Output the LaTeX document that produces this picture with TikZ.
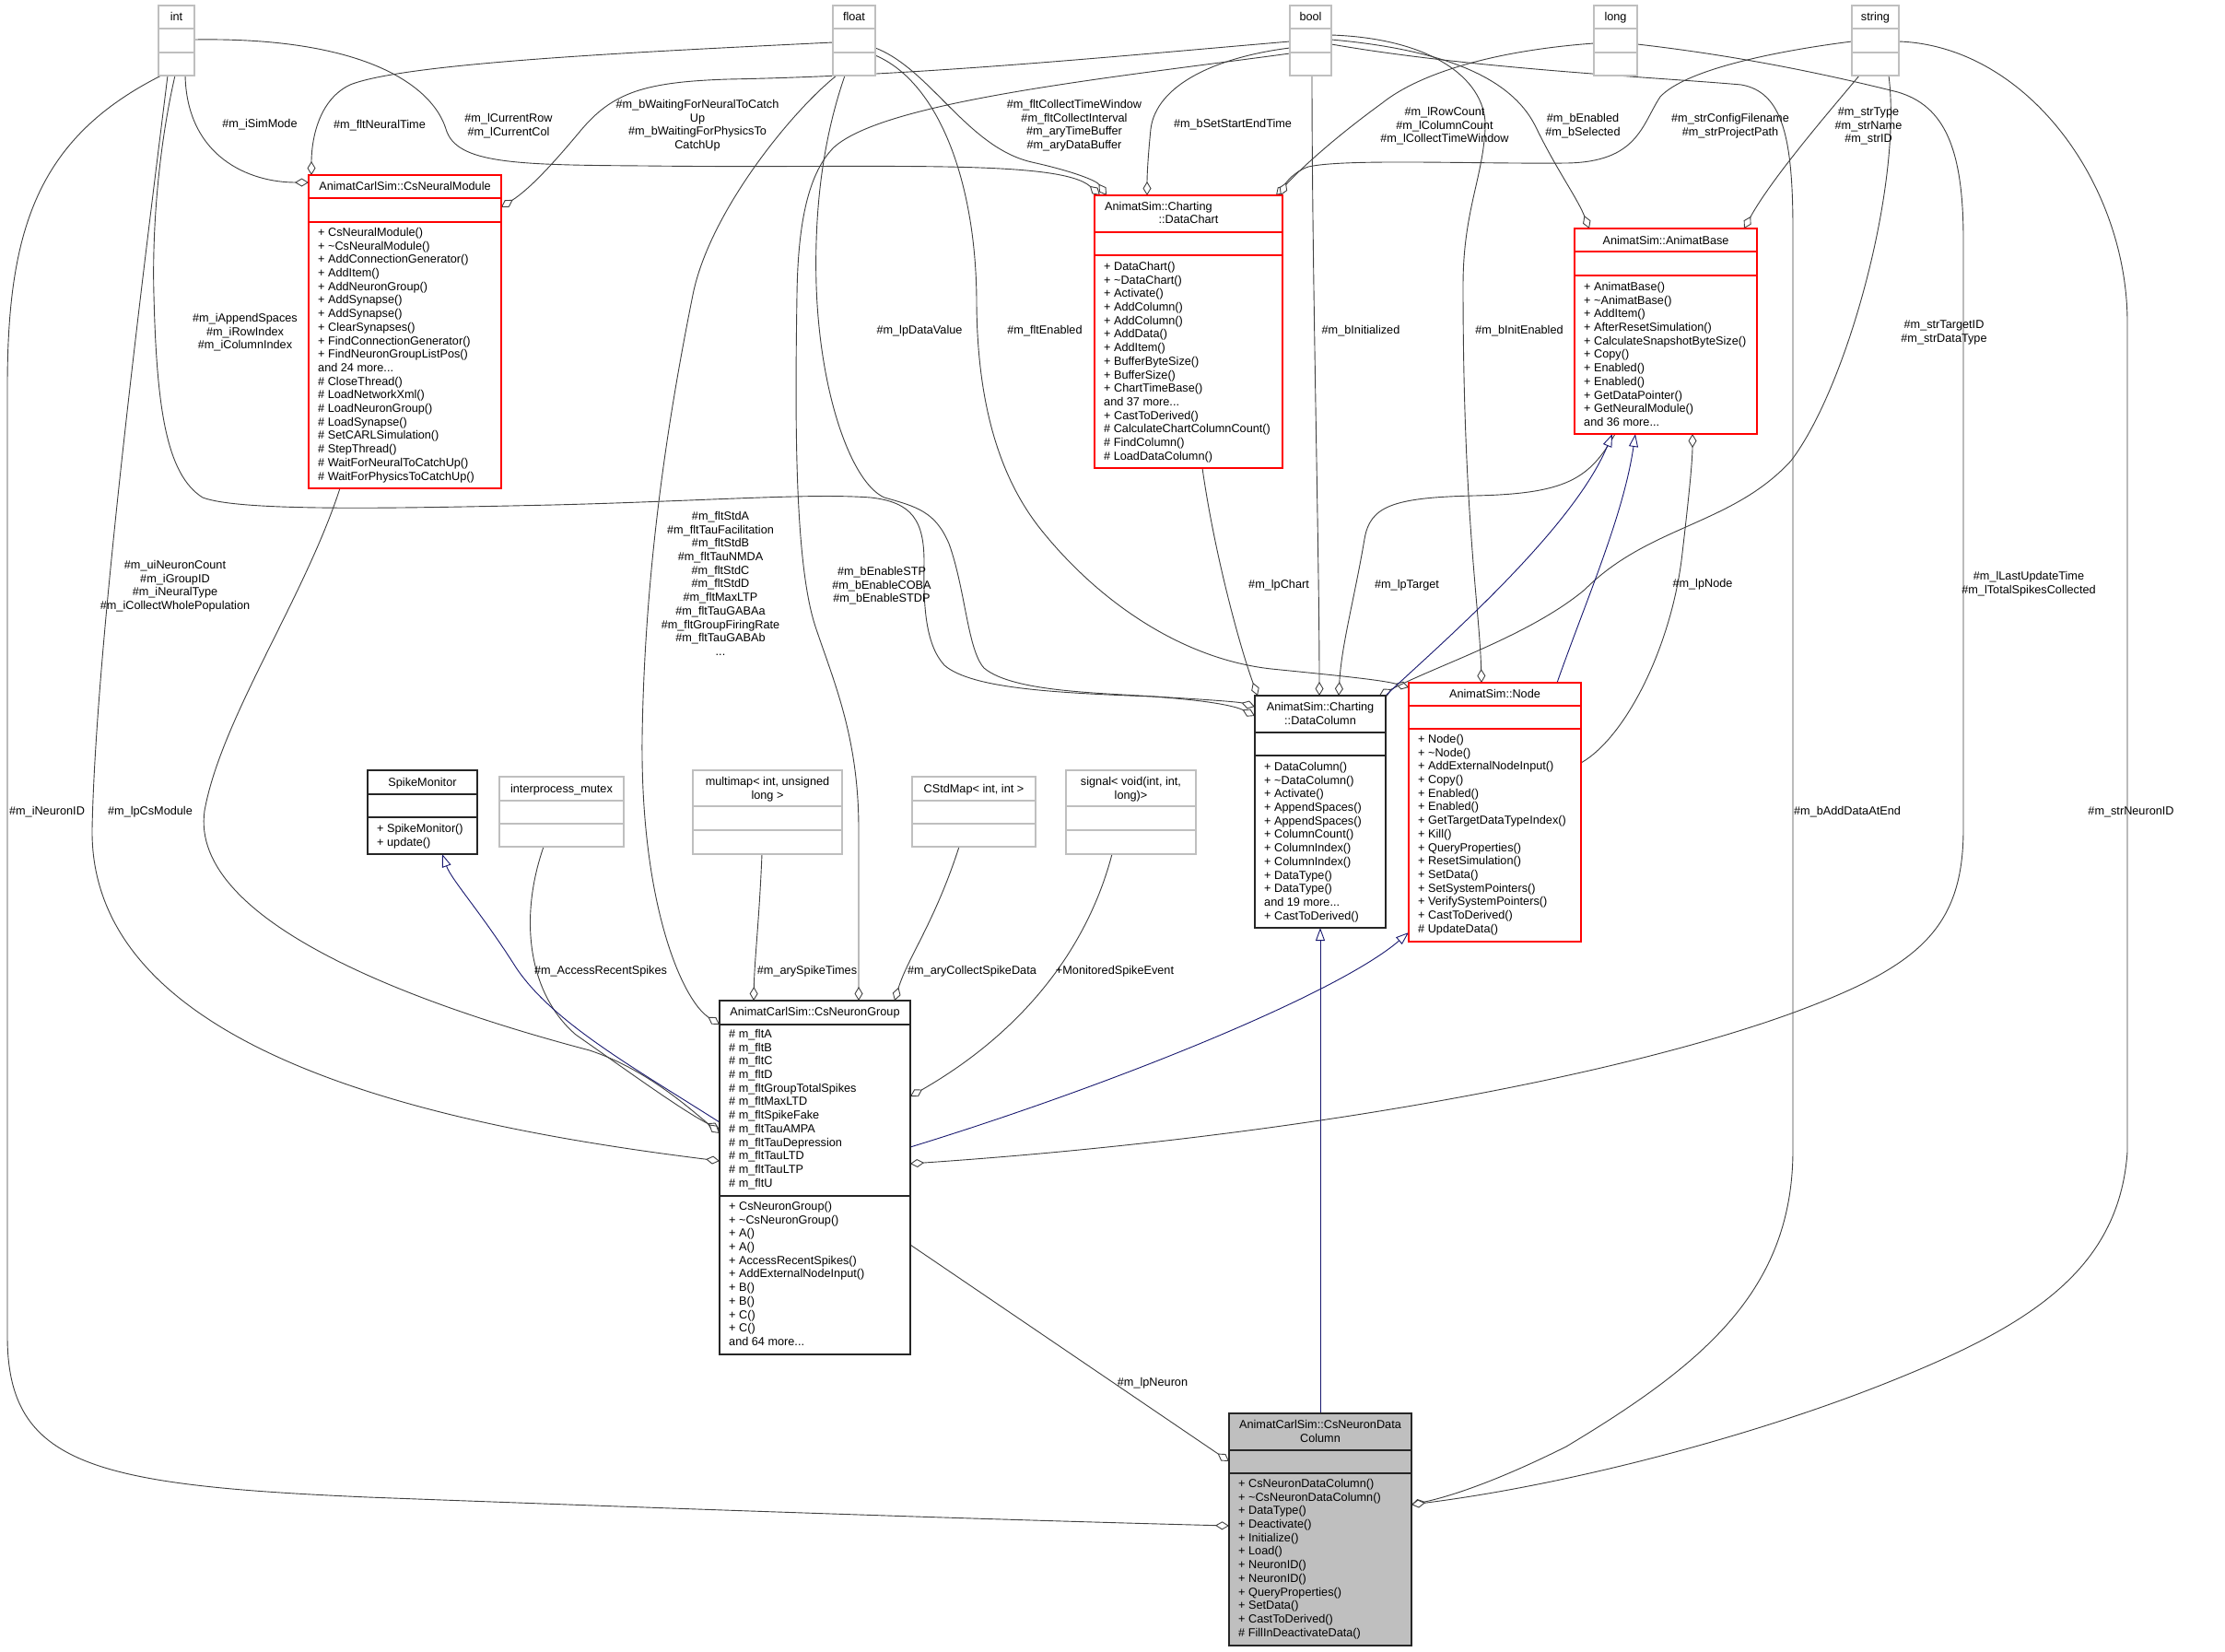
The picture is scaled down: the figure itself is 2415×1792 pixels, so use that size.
\documentclass[tikz,border=0pt]{standalone}
\usepackage{fontspec}
\setmainfont{Liberation Sans}
\usetikzlibrary{arrows.meta}
\definecolor{eg}{HTML}{404040}
\definecolor{nb}{HTML}{191970}
\definecolor{rb}{HTML}{FF0000}
\definecolor{gb}{HTML}{BFBFBF}
\newcommand\fs{\fontsize{12.7pt}{14.7pt}\selectfont}
\newcommand\umlbox[8]{%
  \node[#2, minimum width={(#5)-(#3)}, minimum height={(#6)-(#4)}] (#1) at ({((#3)+(#5))/2},{((#4)+(#6))/2}) {};
  \draw[#2-line] (#3,#7) -- (#5,#7);
  \draw[#2-line] (#3,#8) -- (#5,#8);
}
\begin{document}
\begin{tikzpicture}[x=1pt,y=-1pt,
  agg/.style={draw=eg, line width=0.9pt, -{Diamond[length=15pt,width=9pt,fill=white,line width=0.9pt]}},
  inh/.style={draw=nb, line width=0.9pt, -{Triangle[length=14pt,width=10pt,fill=white,line width=0.9pt]}},
  redbox/.style={draw=rb, line width=1.1pt, fill=white, inner sep=0pt, outer sep=0pt},
  redbox-line/.style={draw=rb, line width=1.1pt},
  blkbox/.style={draw=black!85, line width=1.1pt, fill=white, inner sep=0pt, outer sep=0pt},
  blkbox-line/.style={draw=black!85, line width=1.1pt},
  gbox/.style={draw=gb, line width=1.1pt, fill=white, inner sep=0pt, outer sep=0pt},
  gbox-line/.style={draw=gb, line width=1.1pt},
  selbox/.style={draw=black!85, line width=1.1pt, fill=gb, inner sep=0pt, outer sep=0pt},
  selbox-line/.style={draw=black!85, line width=1.1pt},
  txt/.style={inner sep=0pt, font=\fs, align=left, anchor=north west},
  ctxt/.style={inner sep=0pt, font=\fs, align=center, anchor=north},
  lbl/.style={inner sep=0pt, font=\fs, align=center, anchor=north},
]
\useasboundingbox[fill=white] (0,0) rectangle (2415,1792);

% ---------- boxes (placed first so that anchors exist) ----------
\umlbox{int}{gbox}{172}{6}{211}{82}{31}{57}
\umlbox{float}{gbox}{904}{6}{950}{82}{31}{57}
\umlbox{bool}{gbox}{1400}{6}{1445}{82}{31}{57}
\umlbox{long}{gbox}{1730}{6}{1777}{82}{31}{57}
\umlbox{string}{gbox}{2010}{6}{2061}{82}{31}{57}
\umlbox{cnm}{redbox}{335}{190}{544}{530}{215}{241}
\umlbox{dch}{redbox}{1188}{212}{1392}{508}{252}{277}
\umlbox{ab}{redbox}{1709}{248}{1907}{471}{273}{299}
\umlbox{dcol}{blkbox}{1362}{755}{1504}{1007}{795}{820}
\umlbox{nd}{redbox}{1529}{741}{1716}{1022}{766}{791}
\umlbox{cng}{blkbox}{781}{1086}{988}{1470}{1112}{1298}
\umlbox{cndc}{selbox}{1334}{1534}{1532}{1786}{1574}{1599}
\umlbox{sm}{blkbox}{399}{836}{518}{927}{862}{887}
\umlbox{ipm}{gbox}{542}{843}{677}{919}{869}{894}
\umlbox{mm}{gbox}{752}{836}{914}{927}{875}{901}
\umlbox{csm}{gbox}{990}{843}{1124}{919}{869}{894}
\umlbox{sig}{gbox}{1157}{836}{1298}{927}{875}{901}

% ---------- edges ----------
% from int
\draw[agg] (int.south -| 201,0) .. controls (203,170) and (270,198) .. (cnm.west |- 0,198);
\draw[agg] (int.east |- 0,43) .. controls (400,40) and (470,95) .. (484,140) .. controls (495,178) and (560,179) .. (700,180) .. controls (950,183) and (1150,172) .. (dch.north -| 1194,0);
\draw[agg] (int.south -| 190,0) .. controls (172,160) and (165,250) .. (167,320) .. controls (170,440) and (180,515) .. (220,540) .. controls (260,555) and (420,552) .. (600,548) .. controls (760,544) and (880,535) .. (945,540) .. controls (990,545) and (1003,565) .. (1003,610) .. controls (1002,660) and (1005,700) .. (1025,722) .. controls (1055,748) and (1150,752) .. (1250,756) .. controls (1310,760) and (1340,766) .. (dcol.west |- 0,777);
\draw[agg] (int.south -| 182,0) .. controls (155,300) and (104,700) .. (100,900) .. controls (97,1150) and (500,1225) .. (cng.west |- 0,1260);
\draw[agg] (int.south -| 175,0) .. controls (40,150) and (8,250) .. (8,420) -- (8,1450) .. controls (8,1590) and (100,1612) .. (400,1625) .. controls (800,1640) and (1100,1650) .. (cndc.west |- 0,1656);
% from float
\draw[agg] (float.west |- 0,46) .. controls (700,56) and (440,68) .. (380,92) .. controls (342,110) and (338,160) .. (cnm.north -| 338,0);
\draw[agg] (float.east |- 0,52) .. controls (1010,75) and (1050,160) .. (1120,176) .. controls (1165,186) and (1190,196) .. (dch.north -| 1201,0);
\draw[agg] (float.south -| 917,0) .. controls (890,160) and (884,240) .. (886,310) .. controls (890,430) and (925,525) .. (960,540) .. controls (995,550) and (1015,555) .. (1030,590) .. controls (1048,640) and (1050,705) .. (1068,725) .. controls (1100,752) and (1200,752) .. (1270,757) .. controls (1320,760) and (1345,762) .. (dcol.west |- 0,767);
\draw[agg] (float.east |- 0,60) .. controls (1020,90) and (1060,200) .. (1060,330) .. controls (1061,450) and (1090,525) .. (1130,575) .. controls (1190,650) and (1280,715) .. (1380,726) .. controls (1450,733) and (1500,738) .. (nd.west |- 0,746);
\draw[agg] (float.south -| 908,0) .. controls (860,120) and (770,230) .. (752,320) .. controls (730,430) and (700,600) .. (697,800) .. controls (695,980) and (740,1085) .. (cng.west |- 0,1112);
% from bool
\draw[agg] (bool.west |- 0,45) .. controls (1200,62) and (1000,82) .. (790,86) .. controls (700,89) and (665,100) .. (630,142) .. controls (600,178) and (575,205) .. (cnm.east |- 0,225);
\draw[agg] (bool.west |- 0,52) .. controls (1320,62) and (1255,92) .. (1249,140) .. controls (1246,170) and (1245,190) .. (dch.north -| 1245,0);
\draw[agg] (bool.south -| 1424,0) .. controls (1424,300) and (1432,600) .. (dcol.north -| 1432,0);
\draw[agg] (bool.east |- 0,38) .. controls (1560,42) and (1615,90) .. (1612,140) .. controls (1609,195) and (1588,230) .. (1588,310) .. controls (1588,560) and (1606,660) .. (nd.north -| 1608,0);
\draw[agg] (bool.east |- 0,43) .. controls (1580,55) and (1645,90) .. (1668,140) .. controls (1690,185) and (1712,215) .. (ab.north -| 1725,0);
\draw[agg] (bool.west |- 0,58) .. controls (1200,85) and (960,110) .. (905,160) .. controls (875,190) and (866,250) .. (865,320) .. controls (863,450) and (862,610) .. (885,680) .. controls (905,740) and (932,800) .. (932,900) -- (cng.north -| 932,0);
\draw[agg] (bool.east |- 0,48) .. controls (1600,75) and (1800,84) .. (1890,92) .. controls (1935,100) and (1946,150) .. (1946,250) -- (1946,1250) .. controls (1945,1400) and (1850,1480) .. (1700,1570) .. controls (1620,1610) and (1570,1625) .. (cndc.east |- 0,1633);
% from long
\draw[agg] (long.west |- 0,47) .. controls (1620,55) and (1540,80) .. (1500,112) .. controls (1445,152) and (1410,185) .. (dch.north -| 1385,0);
\draw[agg] (long.east |- 0,48) .. controls (1900,62) and (2000,85) .. (2060,100) .. controls (2110,115) and (2131,160) .. (2131,260) -- (2131,900) .. controls (2131,1010) and (2080,1050) .. (1944,1100) .. controls (1750,1170) and (1400,1235) .. (cng.east |- 0,1263);
% from string
\draw[agg] (string.west |- 0,45) .. controls (1930,55) and (1830,75) .. (1802,105) .. controls (1782,135) and (1778,176) .. (1700,177) .. controls (1600,178) and (1460,172) .. (1420,181) .. controls (1405,186) and (1396,198) .. (dch.north -| 1390,0);
\draw[agg] (string.south -| 2018,0) .. controls (1995,110) and (1925,190) .. (ab.north -| 1893,0);
\draw[agg] (string.south -| 2050,0) .. controls (2065,200) and (2005,420) .. (1944,500) .. controls (1880,570) and (1790,570) .. (1720,640) .. controls (1660,690) and (1560,722) .. (dcol.north -| 1497,0);
\draw[agg] (string.east |- 0,45) .. controls (2200,50) and (2309,200) .. (2309,350) -- (2309,1250) .. controls (2300,1380) and (2200,1440) .. (2050,1500) .. controls (1900,1560) and (1700,1612) .. (cndc.east |- 0,1633);
% other aggregations
\draw[agg] (dch.south -| 1305,0) .. controls (1318,600) and (1345,700) .. (dcol.north -| 1365,0);
\draw[agg] (ab.south -| 1753,0) .. controls (1725,520) and (1700,536) .. (1600,538) .. controls (1510,540) and (1487,550) .. (1481,585) .. controls (1470,650) and (1456,700) .. (dcol.north -| 1453,0);
\draw[agg] (nd.east |- 0,828) .. controls (1765,800) and (1815,700) .. (1826,600) .. controls (1833,540) and (1837,500) .. (ab.south -| 1837,0);
\draw[agg] (mm.south -| 827,0) .. controls (824,1000) and (819,1040) .. (cng.north -| 818,0);
\draw[agg] (csm.south -| 1041,0) .. controls (1015,1000) and (985,1040) .. (cng.north -| 971,0);
\draw[agg] (sig.south -| 1207,0) .. controls (1180,1030) and (1110,1120) .. (cng.east |- 0,1190);
\draw[agg] (ipm.south -| 590,0) .. controls (562,1000) and (575,1080) .. (625,1123) .. controls (685,1165) and (740,1205) .. (cng.west |- 0,1226);
\draw[agg] (cnm.south -| 369,0) .. controls (330,650) and (240,780) .. (222,880) .. controls (205,1000) and (450,1090) .. (640,1140) .. controls (700,1160) and (745,1200) .. (cng.west |- 0,1230);
\draw[agg] (cng.east |- 0,1351) -- (cndc.west |- 0,1586);
% inheritance
\draw[inh] (dcol.north east) .. controls (1545,715) and (1705,580) .. (ab.south -| 1750,0);
\draw[inh] (nd.north -| 1690,0) .. controls (1722,650) and (1762,560) .. (ab.south -| 1775,0);
\draw[inh] (cng.east |- 0,1245) .. controls (1200,1180) and (1450,1080) .. (nd.west |- 0,1012);
\draw[inh] (cng.west |- 0,1218) .. controls (690,1160) and (600,1110) .. (560,1050) .. controls (522,990) and (490,955) .. (sm.south -| 480,0);
\draw[inh] (cndc.north) -- (dcol.south);

% redraw boxes on top
\umlbox{int}{gbox}{172}{6}{211}{82}{31}{57}
\umlbox{float}{gbox}{904}{6}{950}{82}{31}{57}
\umlbox{bool}{gbox}{1400}{6}{1445}{82}{31}{57}
\umlbox{long}{gbox}{1730}{6}{1777}{82}{31}{57}
\umlbox{string}{gbox}{2010}{6}{2061}{82}{31}{57}
\umlbox{cnm}{redbox}{335}{190}{544}{530}{215}{241}
\umlbox{dch}{redbox}{1188}{212}{1392}{508}{252}{277}
\umlbox{ab}{redbox}{1709}{248}{1907}{471}{273}{299}
\umlbox{dcol}{blkbox}{1362}{755}{1504}{1007}{795}{820}
\umlbox{nd}{redbox}{1529}{741}{1716}{1022}{766}{791}
\umlbox{cng}{blkbox}{781}{1086}{988}{1470}{1112}{1298}
\umlbox{cndc}{selbox}{1334}{1534}{1532}{1786}{1574}{1599}
\umlbox{sm}{blkbox}{399}{836}{518}{927}{862}{887}
\umlbox{ipm}{gbox}{542}{843}{677}{919}{869}{894}
\umlbox{mm}{gbox}{752}{836}{914}{927}{875}{901}
\umlbox{csm}{gbox}{990}{843}{1124}{919}{869}{894}
\umlbox{sig}{gbox}{1157}{836}{1298}{927}{875}{901}

% ---------- box texts ----------
\node[ctxt] (int-t) at (191.5,11.9) {\strut int};
\node[ctxt] (float-t) at (927,11.9) {\strut float};
\node[ctxt] (bool-t) at (1422.5,11.9) {\strut bool};
\node[ctxt] (long-t) at (1753.5,11.9) {\strut long};
\node[ctxt] (string-t) at (2035.5,11.9) {\strut string};

\node[ctxt] (cnm-t) at (439.5,195.9) {\strut AnimatCarlSim::CsNeuralModule};
\node[txt] (cnm-m) at (345,245.9) {\strut + CsNeuralModule()\\+ \textasciitilde CsNeuralModule()\\+ AddConnectionGenerator()\\+ AddItem()\\+ AddNeuronGroup()\\+ AddSynapse()\\+ AddSynapse()\\+ ClearSynapses()\\+ FindConnectionGenerator()\\+ FindNeuronGroupListPos()\\and 24 more...\\\# CloseThread()\\\# LoadNetworkXml()\\\# LoadNeuronGroup()\\\# LoadSynapse()\\\# SetCARLSimulation()\\\# StepThread()\\\# WaitForNeuralToCatchUp()\\\# WaitForPhysicsToCatchUp()};

\node[txt] (dch-t1) at (1199,217.9) {\strut AnimatSim::Charting};
\node[ctxt] (dch-t2) at (1290,231.9) {\strut ::DataChart};
\node[txt] (dch-m) at (1198,282.9) {\strut + DataChart()\\+ \textasciitilde DataChart()\\+ Activate()\\+ AddColumn()\\+ AddColumn()\\+ AddData()\\+ AddItem()\\+ BufferByteSize()\\+ BufferSize()\\+ ChartTimeBase()\\and 37 more...\\+ CastToDerived()\\\# CalculateChartColumnCount()\\\# FindColumn()\\\# LoadDataColumn()};

\node[ctxt] (ab-t) at (1808,254.9) {\strut AnimatSim::AnimatBase};
\node[txt] (ab-m) at (1719,304.9) {\strut + AnimatBase()\\+ \textasciitilde AnimatBase()\\+ AddItem()\\+ AfterResetSimulation()\\+ CalculateSnapshotByteSize()\\+ Copy()\\+ Enabled()\\+ Enabled()\\+ GetDataPointer()\\+ GetNeuralModule()\\and 36 more...};

\node[ctxt] (dcol-t) at (1433,760.9) {\strut AnimatSim::Charting\\::DataColumn};
\node[txt] (dcol-m) at (1372,825.9) {\strut + DataColumn()\\+ \textasciitilde DataColumn()\\+ Activate()\\+ AppendSpaces()\\+ AppendSpaces()\\+ ColumnCount()\\+ ColumnIndex()\\+ ColumnIndex()\\+ DataType()\\+ DataType()\\and 19 more...\\+ CastToDerived()};

\node[ctxt] (nd-t) at (1622.5,746.9) {\strut AnimatSim::Node};
\node[txt] (nd-m) at (1539,795.9) {\strut + Node()\\+ \textasciitilde Node()\\+ AddExternalNodeInput()\\+ Copy()\\+ Enabled()\\+ Enabled()\\+ GetTargetDataTypeIndex()\\+ Kill()\\+ QueryProperties()\\+ ResetSimulation()\\+ SetData()\\+ SetSystemPointers()\\+ VerifySystemPointers()\\+ CastToDerived()\\\# UpdateData()};

\node[ctxt] (cng-t) at (884.5,1091.9) {\strut AnimatCarlSim::CsNeuronGroup};
\node[txt] (cng-a) at (791,1115.9) {\strut \# m\_fltA\\\# m\_fltB\\\# m\_fltC\\\# m\_fltD\\\# m\_fltGroupTotalSpikes\\\# m\_fltMaxLTD\\\# m\_fltSpikeFake\\\# m\_fltTauAMPA\\\# m\_fltTauDepression\\\# m\_fltTauLTD\\\# m\_fltTauLTP\\\# m\_fltU};
\node[txt] (cng-m) at (791,1302.9) {\strut + CsNeuronGroup()\\+ \textasciitilde CsNeuronGroup()\\+ A()\\+ A()\\+ AccessRecentSpikes()\\+ AddExternalNodeInput()\\+ B()\\+ B()\\+ C()\\+ C()\\and 64 more...};

\node[ctxt] (cndc-t) at (1433,1539.9) {\strut AnimatCarlSim::CsNeuronData\\Column};
\node[txt] (cndc-m) at (1344,1603.9) {\strut + CsNeuronDataColumn()\\+ \textasciitilde CsNeuronDataColumn()\\+ DataType()\\+ Deactivate()\\+ Initialize()\\+ Load()\\+ NeuronID()\\+ NeuronID()\\+ QueryProperties()\\+ SetData()\\+ CastToDerived()\\\# FillInDeactivateData()};

\node[ctxt] (sm-t) at (458.5,842.9) {\strut SpikeMonitor};
\node[txt] (sm-m) at (409,892.9) {\strut + SpikeMonitor()\\+ update()};
\node[ctxt] (ipm-t) at (609.5,849.9) {\strut interprocess\_mutex};
\node[ctxt] (mm-t) at (833,841.9) {\strut multimap< int, unsigned\\long >};
\node[ctxt] (csm-t) at (1057,849.9) {\strut CStdMap< int, int >};
\node[ctxt] (sig-t) at (1227.5,841.9) {\strut signal< void(int, int,\\long)>};

% ---------- edge labels ----------
\node[lbl] (l1) at (282,127.9) {\strut \#m\_iSimMode};
\node[lbl] (l2) at (412,128.9) {\strut \#m\_fltNeuralTime};
\node[lbl] (l3) at (552,121.9) {\strut \#m\_lCurrentRow\\\#m\_lCurrentCol};
\node[lbl] (l4) at (757,106.9) {\strut \#m\_bWaitingForNeuralToCatch\\Up\\\#m\_bWaitingForPhysicsTo\\CatchUp};
\node[lbl] (l5) at (1166,106.9) {\strut \#m\_fltCollectTimeWindow\\\#m\_fltCollectInterval\\\#m\_aryTimeBuffer\\\#m\_aryDataBuffer};
\node[lbl] (l6) at (1338,127.9) {\strut \#m\_bSetStartEndTime};
\node[lbl] (l7) at (1568,114.9) {\strut \#m\_lRowCount\\\#m\_lColumnCount\\\#m\_lCollectTimeWindow};
\node[lbl] (l8) at (1718,121.9) {\strut \#m\_bEnabled\\\#m\_bSelected};
\node[lbl] (l9) at (1878,121.9) {\strut \#m\_strConfigFilename\\\#m\_strProjectPath};
\node[lbl] (l10) at (2028,114.9) {\strut \#m\_strType\\\#m\_strName\\\#m\_strID};
\node[lbl] (l11) at (266,338.9) {\strut \#m\_iAppendSpaces\\\#m\_iRowIndex\\\#m\_iColumnIndex};
\node[lbl] (l12) at (998,351.9) {\strut \#m\_lpDataValue};
\node[lbl] (l13) at (1134,351.9) {\strut \#m\_fltEnabled};
\node[lbl] (l14) at (1477,351.9) {\strut \#m\_bInitialized};
\node[lbl] (l15) at (1649,351.9) {\strut \#m\_bInitEnabled};
\node[lbl] (l16) at (2110,345.9) {\strut \#m\_strTargetID\\\#m\_strDataType};
\node[lbl] (l17) at (782,553.9) {\strut \#m\_fltStdA\\\#m\_fltTauFacilitation\\\#m\_fltStdB\\\#m\_fltTauNMDA\\\#m\_fltStdC\\\#m\_fltStdD\\\#m\_fltMaxLTP\\\#m\_fltTauGABAa\\\#m\_fltGroupFiringRate\\\#m\_fltTauGABAb\\...};
\node[lbl] (l18) at (190,606.9) {\strut \#m\_uiNeuronCount\\\#m\_iGroupID\\\#m\_iNeuralType\\\#m\_iCollectWholePopulation};
\node[lbl] (l19) at (957,613.9) {\strut \#m\_bEnableSTP\\\#m\_bEnableCOBA\\\#m\_bEnableSTDP};
\node[lbl] (l20) at (1388,627.9) {\strut \#m\_lpChart};
\node[lbl] (l21) at (1527,627.9) {\strut \#m\_lpTarget};
\node[lbl] (l22) at (1848,626.9) {\strut \#m\_lpNode};
\node[lbl] (l23) at (2202,618.9) {\strut \#m\_lLastUpdateTime\\\#m\_lTotalSpikesCollected};
\node[lbl] (l24) at (51,873.9) {\strut \#m\_iNeuronID};
\node[lbl] (l25) at (163,873.9) {\strut \#m\_lpCsModule};
\node[lbl] (l26) at (2005,873.9) {\strut \#m\_bAddDataAtEnd};
\node[lbl] (l27) at (2313,873.9) {\strut \#m\_strNeuronID};
\node[lbl] (l28) at (652,1046.9) {\strut \#m\_AccessRecentSpikes};
\node[lbl] (l29) at (876,1046.9) {\strut \#m\_arySpikeTimes};
\node[lbl] (l30) at (1055,1046.9) {\strut \#m\_aryCollectSpikeData};
\node[lbl] (l31) at (1210,1046.9) {\strut +MonitoredSpikeEvent};
\node[lbl] (l32) at (1251,1493.9) {\strut \#m\_lpNeuron};
\end{tikzpicture}
\end{document}
